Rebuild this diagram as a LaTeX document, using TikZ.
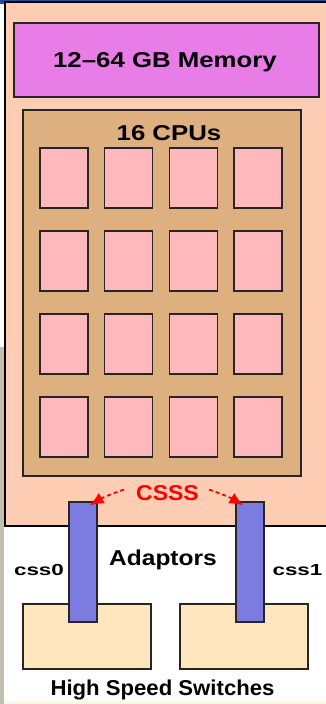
\documentclass[tikz,border=0pt]{standalone}
\usepackage{fontspec}
\setmainfont{Liberation Sans}
\usepackage{graphicx}
\usetikzlibrary{arrows.meta,positioning,calc}
\definecolor{peach}{HTML}{FFCCB4}
\definecolor{memclr}{HTML}{E87DE8}
\definecolor{boardclr}{HTML}{DEB080}
\definecolor{cpuclr}{HTML}{FFB8BB}
\definecolor{adaptclr}{HTML}{7B7BE0}
\definecolor{swclr}{HTML}{FFE6BE}
\definecolor{barclr}{HTML}{284C9C}
\definecolor{stripclr}{HTML}{C2BFB0}
\newcommand{\stretchtxt}[2]{\scalebox{#1}[1]{#2}}
\begin{document}
\begin{tikzpicture}[x=1pt,y=-1pt,
 box/.style={draw=black!85,line width=1.3pt,inner sep=0pt},
 mem/.style={box,fill=memclr,minimum width=305pt,minimum height=74pt},
 board/.style={box,fill=boardclr,minimum width=278pt,minimum height=366pt},
 cpu/.style={box,fill=cpuclr,minimum width=48pt,minimum height=60pt},
 adapt/.style={box,fill=adaptclr,minimum width=28pt,minimum height=120pt},
 sw/.style={box,fill=swclr,minimum width=128pt,minimum height=65pt},
 lbl/.style={inner sep=0pt,anchor=base,font=\bfseries\fontsize{21.5}{24}\selectfont},
 small/.style={inner sep=0pt,anchor=base,font=\bfseries\fontsize{16}{18}\selectfont},
 link/.style={red,line width=1.8pt,dash pattern=on 4pt off 3pt},
 tiphead/.style={-{Latex[length=14pt,width=12pt]}}]
\useasboundingbox (0,0) rectangle (326,704);
\clip (0,0) rectangle (326,704);
\fill[white] (0,0) rectangle (326,704);
\fill[barclr] (0,0) rectangle (326,4);
\fill[stripclr] (0,347) rectangle (4,704);
\fill[swclr!40] (4,701) rectangle (326,704);
\draw[fill=peach,line width=1.3pt] (5,2) rectangle (340,526);
\node[mem] (mem) at (166.5,60) {};
\node[lbl] (memtxt) at (165,67) {\stretchtxt{1.2}{12--64 GB Memory}};
\node[board] (board) at (162,293) {};
\node[lbl] (cputxt) at (169,140) {\stretchtxt{1.2}{16 CPUs}};
\foreach \i in {0,1,2,3}
 \foreach \j in {0,1,2,3}
  \node[cpu] (cpu\i\j) at ({64+64.67*\i},{178+83*\j}) {};
\node[sw] (sw0) at (87,636.5) {};
\node[sw] (sw1) at (244,636.5) {};
\node[adapt] (ad0) at (83,562) {};
\node[adapt] (ad1) at (250,562) {};
\node[lbl] (adtxt) at (163,565) {\stretchtxt{1.14}{Adaptors}};
\node[small] (css0) at (39,575) {\stretchtxt{1.4}{css0}};
\node[small] (css1) at (297.5,575) {\stretchtxt{1.4}{css1}};
\node[lbl,red] (csss) at (167.5,500) {\stretchtxt{1.07}{CSSS}};
\node[lbl] (swtxt) at (162.5,695) {\stretchtxt{1.03}{High Speed Switches}};
\coordinate (tip0) at ($(ad0.north east)+(-8,4)$);
\coordinate (tip1) at ($(ad1.north west)+(8,4)$);
\draw[link,tiphead] ($(csss.west)+(-12,-3)$) to[bend right=6] (tip0);
\draw[link,tiphead] ($(csss.east)+(10,-3)$) to[bend left=6] (tip1);
\end{tikzpicture}
\end{document}
